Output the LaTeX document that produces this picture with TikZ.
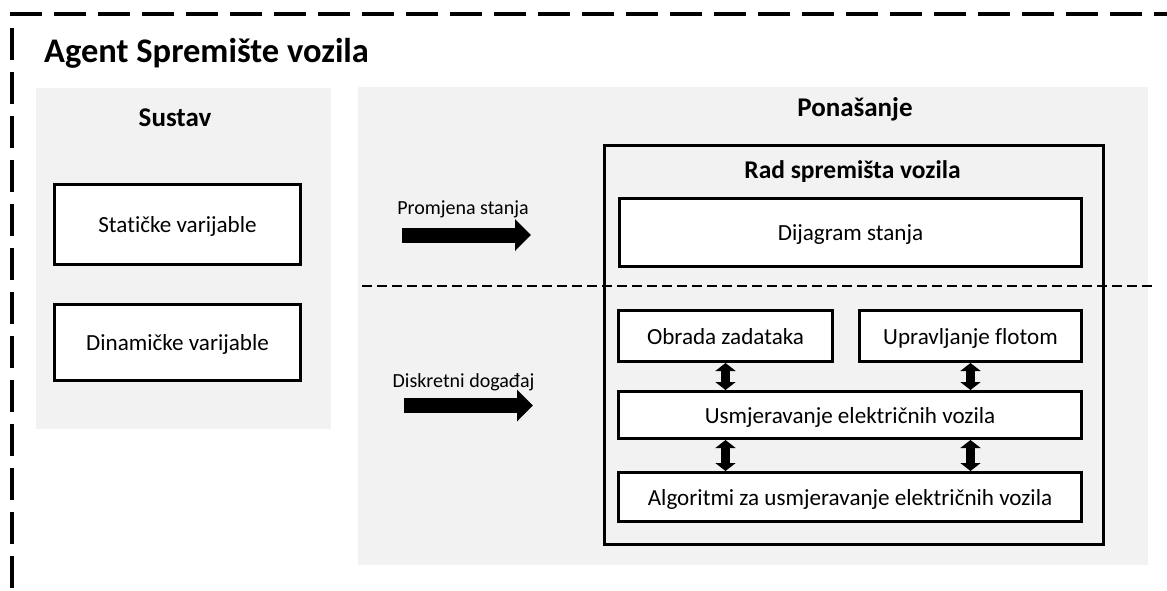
\documentclass[tikz,border=0pt]{standalone}
\usepackage{fontspec}
\setmainfont{Carlito}[Ligatures=NoCommon]
\usetikzlibrary{arrows.meta}
\definecolor{panelgray}{HTML}{F2F2F2}
\begin{document}
\begin{tikzpicture}[x=1pt,y=-1pt,
  box/.style={draw=black, line width=3pt, fill=white, inner sep=0pt, text height=16pt, text depth=0pt, font=\fontsize{23.1}{27}\selectfont},
  panel/.style={fill=panelgray, draw=none, inner sep=0pt},
  lbl/.style={font=\fontsize{20}{24}\selectfont, anchor=base, inner sep=0pt},
  hdr/.style={font=\bfseries\fontsize{27}{32}\selectfont, anchor=base, inner sep=0pt},
  subhdr/.style={font=\bfseries\fontsize{25.5}{30}\selectfont, anchor=base, inner sep=0pt},
  fatarrow/.style={line width=15pt, -{Triangle[length=16pt,width=31pt]}},
  dblarrow/.style={line width=9pt, {Triangle[length=8pt,width=20pt]}-{Triangle[length=8pt,width=20pt]}},
  border/.style={line width=4pt, dash pattern=on 32pt off 12pt},
  divider/.style={line width=2.5pt, dash pattern=on 10pt off 5pt},
]
\useasboundingbox (0,0) rectangle (1167,590);

% outer dashed border
\draw[border] (10,14) -- (1167,14);
\draw[border] (12,28) -- (12,590);

% title
\node[anchor=base west, inner sep=0pt, font=\bfseries\fontsize{34.5}{40}\selectfont] (title) at (44,62) {Agent Spremište vozila};

% panels
\node[panel, minimum width=295pt, minimum height=341pt] (sustav) at (183.5,258.5) {};
\node[panel, minimum width=790pt, minimum height=478pt] (ponasanje) at (753,326) {};

\node[hdr] (sustavlbl) at (175,126) {Sustav};
\node[hdr] (ponlbl) at (855,116) {Ponašanje};

% Sustav boxes
\node[box, minimum width=246pt, minimum height=80pt] (stat) at (177.5,224.5) {Statičke varijable};
\node[box, minimum width=246pt, minimum height=76pt] (dina) at (177.5,342.5) {Dinamičke varijable};

% Rad box
\node[box, fill=none, minimum width=499pt, minimum height=399pt] (rad) at (854,345) {};
\node[subhdr] (radlbl) at (852.5,178) {Rad spremišta vozila};

% divider
\coordinate (dvs) at (362,286);
\coordinate (dve) at (1152,286);
\draw[divider] (dvs) -- (dve);

% inner boxes
\node[box, minimum width=462pt, minimum height=68pt] (dij) at (850.5,232.5) {Dijagram stanja};
\node[box, minimum width=214pt, minimum height=51pt] (obr) at (725.5,336) {Obrada zadataka};
\node[box, minimum width=222pt, minimum height=51pt] (upr) at (970.5,336) {Upravljanje flotom};
\node[box, minimum width=463pt, minimum height=47pt] (usm) at (850,415) {Usmjeravanje električnih vozila};
\node[box, minimum width=463pt, minimum height=49pt] (alg) at (850,497) {Algoritmi za usmjeravanje električnih vozila};

% double arrows
\draw[dblarrow] (obr.south) -- (usm.north -| obr.south);
\draw[dblarrow] (upr.south) -- (usm.north -| upr.south);
\draw[dblarrow] (usm.south -| obr.south) -- (alg.north -| obr.south);
\draw[dblarrow] (usm.south -| upr.south) -- (alg.north -| upr.south);

% event arrows
\node[lbl] (promlbl) at (463,214) {Promjena stanja};
\coordinate (a1s) at (402,235);
\coordinate (a1e) at (531,235);
\draw[fatarrow] (a1s) -- (a1e);

\node[lbl] (disklbl) at (463.5,387) {Diskretni događaj};
\coordinate (a2s) at (404,405.5);
\coordinate (a2e) at (533,405.5);
\draw[fatarrow] (a2s) -- (a2e);
\end{tikzpicture}
\end{document}
